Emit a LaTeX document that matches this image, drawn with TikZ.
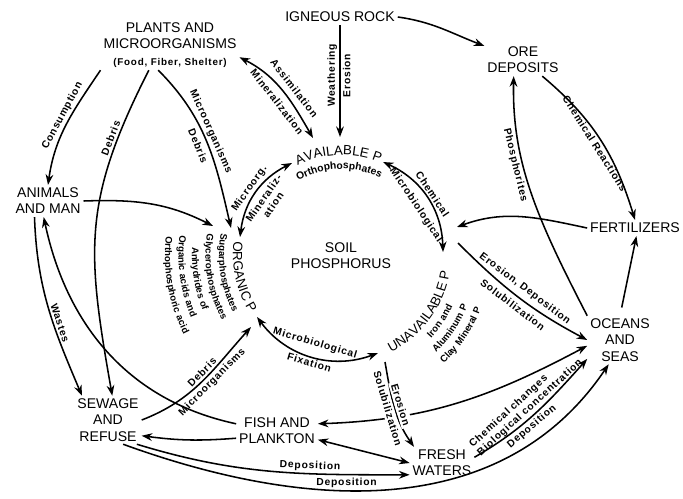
\documentclass[tikz,border=0pt]{standalone}
\usepackage{fontspec}
\setmainfont{Liberation Sans}
\newfontfamily\tagfont[LetterSpace=8]{Liberation Sans}
\usetikzlibrary{positioning,arrows.meta,decorations.text}

\newcommand{\ringfont}{\fontsize{9.5}{11}\selectfont}
\newcommand{\subfont}{\tagfont\bfseries\fontsize{7.3}{8.3}\selectfont}
\newcommand{\ringsub}{\tagfont\bfseries\fontsize{6.8}{8}\selectfont}

\tikzset{
  place/.style={align=center, inner sep=2pt, font=\fontsize{10}{11.5}\selectfont},
  flow/.style={line width=1.1pt, -{Stealth[length=7.5pt,width=5.5pt]}},
  twoway/.style={line width=1.1pt, {Stealth[length=7.5pt,width=5.5pt]}-{Stealth[length=7.5pt,width=5.5pt]}},
  tag/.style={inner sep=1.5pt, font=\subfont},
  lab/.style={tag, sloped},
  ring/.style={decorate, decoration={text along path, text align=center, text={#1}}},
  ringleft/.style={decorate, decoration={text along path, text={#1}}},
}

\begin{document}
\begin{tikzpicture}[x=0.025cm, y=0.025cm]
  \useasboundingbox (0,0) rectangle (683,-499);

  % the places
  \node[place] (rock) at (340,-17) {IGNEOUS ROCK};
  \node[place] (plants) at (170,-45) {PLANTS AND\\MICROORGANISMS\\{\tagfont\bfseries\fontsize{7}{8}\selectfont (Food, Fiber, Shelter)}};
  \node[place] (ore) at (523,-60) {ORE\\DEPOSITS};
  \node[place] (animals) at (48,-201) {ANIMALS\\AND MAN};
  \node[place] (fert) at (635,-228) {FERTILIZERS};
  \node[place] (oceans) at (620,-340) {OCEANS\\AND\\SEAS};
  \node[place] (sewage) at (108,-420) {SEWAGE\\AND\\REFUSE};
  \node[place] (fish) at (277,-431) {FISH AND\\PLANKTON};
  \node[place] (fresh) at (442,-463) {FRESH\\WATERS};
  \node[place] (soil) at (341,-256) {SOIL\\PHOSPHORUS};

  % soil phosphorus ring
  \coordinate (C) at (342,-255);
  \path[ring={|\ringfont|AVAILABLE P}] ([shift={(132:100)}]C) arc[start angle=132, end angle=52, radius=100];
  \path[ring={|\subfont|Orthophosphates}] ([shift={(150:86)}]C) arc[start angle=150, end angle=34, radius=86];
  \path[ring={|\ringfont|ORGANIC P}] ([shift={(150:109)}]C) arc[start angle=150, end angle=235, radius=109];
  \path[ringleft={|\ringsub|Sugarphosphates}] ([shift={(170:123)}]C) arc[start angle=170, end angle=250, radius=123];
  \path[ringleft={|\ringsub|Glycerophosphates}] ([shift={(171:136.5)}]C) arc[start angle=171, end angle=250, radius=136.5];
  \path[ringleft={|\ringsub|Anhydrides of}] ([shift={(177:150)}]C) arc[start angle=177, end angle=250, radius=150];
  \path[ringleft={|\ringsub|Organic acids and}] ([shift={(173:163.5)}]C) arc[start angle=173, end angle=250, radius=163.5];
  \path[ringleft={|\ringsub|Orthophosphoric acid}] ([shift={(174:177)}]C) arc[start angle=174, end angle=250, radius=177];
  \path[ring={|\ringfont|UNAVAILABLE P}] ([shift={(-80:109)}]C) arc[start angle=-80, end angle=8, radius=109];
  \path[ring={|\ringsub|Iron and}] ([shift={(-70:122)}]C) arc[start angle=-70, end angle=2, radius=122];
  \path[ring={|\ringsub|Aluminum P}] ([shift={(-70:135.5)}]C) arc[start angle=-70, end angle=2, radius=135.5];
  \path[ring={|\ringsub|Clay Mineral P}] ([shift={(-70:149)}]C) arc[start angle=-70, end angle=2, radius=149];

  % ends of the flows at the ring
  \coordinate (av-rock) at (340,-137);
  \coordinate (av-plants) at (313,-138);
  \coordinate (av-org) at (292,-163);
  \coordinate (av-un) at (383,-162);
  \coordinate (org-plants) at (231,-228);
  \coordinate (org-animals) at (213,-226);
  \coordinate (org-av) at (240,-237);
  \coordinate (org-un) at (257,-317);
  \coordinate (org-sewage) at (251,-327);
  \coordinate (un-av) at (443,-252);
  \coordinate (un-fert) at (457,-227);
  \coordinate (un-oceans) at (458,-243);
  \coordinate (un-org) at (378,-353);
  \coordinate (un-fresh) at (385,-362);

  % round the ring
  \draw[twoway] (org-av) to[bend left=28] node[lab, above] {Microorg.} node[lab, below=2pt, align=center] {Mineraliz-\\ation} (av-org);
  \draw[twoway] (av-un) to[bend left=32] node[lab, above] {Chemical} node[lab, below=4pt] {Microbiological} (un-av);
  \draw[twoway] (org-un) to[bend right=37] node[lab, above=4pt] {Microbiological} node[lab, below] {Fixation} (un-org);

  % from rock and plants
  \draw[flow] (rock.south) -- (av-rock)
    node[tag, pos=.45, rotate=90, anchor=south] {Weathering}
    node[tag, pos=.45, rotate=90, anchor=north] {Erosion};
  \draw[flow] (rock.east) to[out=-8, in=159] (ore.160);
  \draw[flow] (plants.south west) to[out=236, in=82] node[lab, above, pos=.45] {Consumption} (animals.north);
  \draw[flow] (plants.-130) to[out=243, in=100, looseness=1.15] node[lab, above, pos=.2] {Debris} (sewage.80);
  \draw[flow] (plants.-115) to[out=-45, in=103] node[lab, above, pos=.45] {Microorganisms} node[lab, below=2pt, pos=.5] {Debris} (org-plants);
  \draw[twoway] (plants.-10) to[out=-27, in=120] node[lab, above=3pt, pos=.55] {Assimilation} node[lab, below=3pt, pos=.55] {Mineralization} (av-plants);

  % animals, sewage, fish
  \draw[flow] (animals.east) to[out=2, in=153] (org-animals);
  \draw[flow] (animals.-130) to[out=272, in=113] node[lab, above, pos=.6] {Wastes} (sewage.137);
  \draw[flow] (fish.170) to[out=168, in=-78] (animals.-105);
  \draw[flow] (fish.190) to[bend left=6] (sewage.-25);
  \draw[flow] (sewage.east) to[out=21, in=228] node[lab, above, pos=.55] {Debris} node[lab, below, pos=.55] {Microorganisms} (org-sewage);
  \draw[flow] (sewage.-40) to[out=-17, in=180] node[lab, above, pos=.65] {Deposition} (fresh.-160);
  \draw[flow] (sewage.-58) to[out=-20, in=236] node[lab, above, pos=.41] {Deposition} (oceans.-115);
  \draw[twoway] (fish.10) to[out=2, in=208] (oceans.190);
  \draw[twoway] (fish.-12) -- (fresh.180);

  % waters
  \draw[flow] (un-fresh) to[out=-80, in=125]
    node[lab, above, fill=white] {Erosion}
    node[lab, below, fill=white] {Solubilization} (fresh.150);
  \draw[flow] (fresh.10) to[out=30, in=228]
    node[lab, above, align=left] {Chemical changes\\Biological concentration}
    node[lab, below, pos=.42] {Deposition} (oceans.-150);
  \draw[flow] (un-oceans) to[out=-45, in=152] node[lab, above=2pt] {Erosion, Deposition} node[lab, below=2pt] {Solubilization} (oceans.180);

  % ore and fertilizers
  \draw[flow] (fert.west) to[out=168, in=20] (un-fert);
  \draw[flow, shorten <=6pt] (oceans.north) -- (fert.-80);
  \draw[flow] (ore.-40) to[out=-40, in=107] node[lab, below, pos=.5] {Chemical Reactions} (fert.north);
  \draw[flow] (oceans.north west) .. controls (535,-215) and (512,-160) .. node[lab, below, pos=.62] {Phosphorites} (ore.-120);
\end{tikzpicture}
\end{document}
